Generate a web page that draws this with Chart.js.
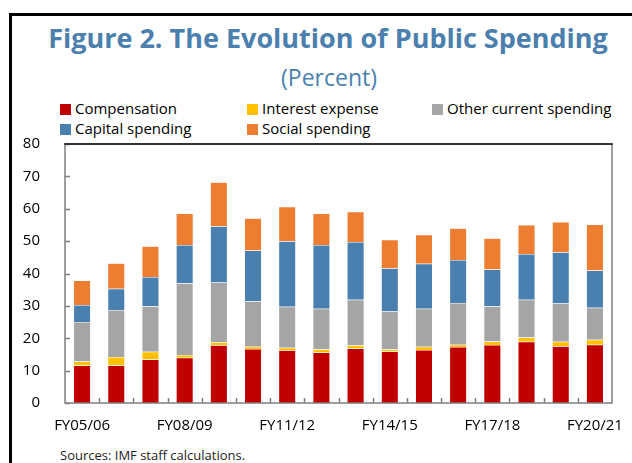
<!DOCTYPE html>
<html>
<head>
<meta charset="utf-8">
<script src="https://cdn.jsdelivr.net/npm/chart.js@4/dist/chart.umd.min.js"></script>
<style>
  html, body { margin: 0; padding: 0; width: 632px; height: 463px; overflow: hidden; background: #fff; font-family: "Open Sans", "Noto Sans", sans-serif; }
  #frame { position: absolute; left: 9px; top: 13px; right: -5px; bottom: -5px; border-top: 3px solid #000; border-left: 3px solid #000; }
  #title { position: absolute; left: 10px; width: 636px; top: 18px; text-align: center; color: #4a7fae; font-weight: 700; font-size: 27px; line-height: 40px; white-space: nowrap; }
  #subtitle { position: absolute; left: 10px; width: 638px; top: 60px; text-align: center; color: #4a7fae; font-size: 23px; line-height: 34px; }
  .leg { position: absolute; font-size: 15px; line-height: 20px; color: #000; white-space: nowrap; }
  .leg i { display: inline-block; width: 11px; height: 11px; margin-right: 4px; vertical-align: -1px; }
  #src { position: absolute; left: 60px; top: 446px; font-size: 13px; line-height: 18px; color: #222; }
  #c { position: absolute; left: 0; top: 0; }
</style>
</head>
<body>
<div id="frame"></div>
<div id="title">Figure 2. The Evolution of Public Spending</div>
<div id="subtitle">(Percent)</div>
<div id="legend"></div>
<div id="src">Sources: IMF staff calculations.</div>
<canvas id="c" width="632" height="463"></canvas>
<script>
const categories = ["FY05/06","FY06/07","FY07/08","FY08/09","FY09/10","FY10/11","FY11/12","FY12/13","FY13/14","FY14/15","FY15/16","FY16/17","FY17/18","FY18/19","FY19/20","FY20/21"];
const compensation = [11.6, 11.6, 13.4, 14.0, 17.8, 16.7, 16.3, 15.6, 16.8, 15.9, 16.4, 17.3, 17.9, 18.9, 17.5, 18.0];
const interestExpense = [1.2, 2.6, 2.4, 0.8, 1.0, 0.7, 0.8, 1.0, 1.0, 0.7, 1.0, 0.7, 1.1, 1.3, 1.4, 1.5];
const otherCurrent = [12.2, 14.5, 14.1, 22.2, 18.4, 14.0, 12.6, 12.5, 14.1, 11.7, 11.7, 12.9, 10.9, 11.7, 11.8, 9.9];
const capitalSpending = [5.3, 6.6, 9.0, 11.8, 17.4, 15.7, 20.3, 19.7, 17.8, 13.3, 13.9, 13.3, 11.3, 14.1, 15.9, 11.5];
const socialSpending = [7.5, 7.9, 9.5, 9.7, 13.6, 10.0, 10.6, 9.7, 9.4, 8.8, 9.0, 9.8, 9.7, 9.0, 9.3, 14.2];
const yTicks = [0, 10, 20, 30, 40, 50, 60, 70, 80];

const seriesNames = ["Compensation", "Interest expense", "Other current spending", "Capital spending", "Social spending"];
const colors = ["#c00000", "#ffc000", "#a5a5a5", "#4a80b0", "#ed7d31"];
const seriesData = [compensation, interestExpense, otherCurrent, capitalSpending, socialSpending];

// HTML legend (3 columns)
const legPos = [[60, 98], [247, 98], [432, 98], [60, 118], [247, 118]];
const legEl = document.getElementById('legend');
seriesNames.forEach((n, i) => {
  const d = document.createElement('div');
  d.className = 'leg';
  d.style.left = legPos[i][0] + 'px';
  d.style.top = legPos[i][1] + 'px';
  d.innerHTML = '<i style="background:' + colors[i] + '"></i>' + n;
  legEl.appendChild(d);
});

const frameBox = {
  id: 'frameBox',
  afterDatasetsDraw(chart) {
    const ctx = chart.ctx, a = chart.chartArea;
    const xs = chart.scales.x, ys = chart.scales.y;
    ctx.save();
    ctx.strokeStyle = '#7f7f7f';
    ctx.lineWidth = 1.5;
    for (let i = 1; i < categories.length; i++) {
      const x = Math.round((xs.getPixelForTick(i - 1) + xs.getPixelForTick(i)) / 2) + 0.5;
      ctx.beginPath(); ctx.moveTo(x, a.bottom); ctx.lineTo(x, a.bottom - 5); ctx.stroke();
    }
    yTicks.forEach(v => {
      const y = Math.round(ys.getPixelForValue(v)) + 0.5;
      ctx.beginPath(); ctx.moveTo(a.left, y); ctx.lineTo(a.left + 5, y); ctx.stroke();
    });
    ctx.beginPath();
    ctx.moveTo(a.left, a.top); ctx.lineTo(a.left, a.bottom); ctx.lineTo(a.right, a.bottom); ctx.lineTo(a.right, a.top);
    ctx.stroke();
    ctx.strokeStyle = '#333';
    ctx.lineWidth = 2;
    ctx.beginPath(); ctx.moveTo(a.left - 0.75, a.top); ctx.lineTo(a.right + 0.75, a.top); ctx.stroke();
    ctx.restore();
  }
};

new Chart(document.getElementById('c'), {
  type: 'bar',
  data: {
    labels: categories,
    datasets: seriesData.map((d, i) => ({
      label: seriesNames[i],
      data: d,
      backgroundColor: colors[i],
      borderColor: 'rgba(255,255,255,0.35)',
      borderWidth: 0.5,
      barPercentage: 0.5,
      categoryPercentage: 1.0
    }))
  },
  options: {
    responsive: false,
    animation: false,
    devicePixelRatio: 1,
    layout: { padding: { left: 0, right: 20, top: 144, bottom: 0 } },
    plugins: { legend: { display: false }, title: { display: false }, tooltip: { enabled: false } },
    scales: {
      x: {
        stacked: true,
        grid: { display: false },
        border: { display: false },
        ticks: {
          autoSkip: false, maxRotation: 0, padding: 6,
          color: '#000', font: { family: 'Open Sans', size: 15 },
          callback: (v, i) => (i % 3 === 0 ? categories[i] : '')
        },
        afterFit: s => { s.height = 60; }
      },
      y: {
        stacked: true,
        min: 0, max: 80,
        afterBuildTicks: s => { s.ticks = yTicks.map(v => ({ value: v })); },
        grid: { display: false },
        border: { display: false },
        ticks: { color: '#000', padding: 17, font: { family: 'Open Sans', size: 15 } },
        afterFit: s => { s.width = 65; }
      }
    }
  },
  plugins: [frameBox]
});
</script>
</body>
</html>
